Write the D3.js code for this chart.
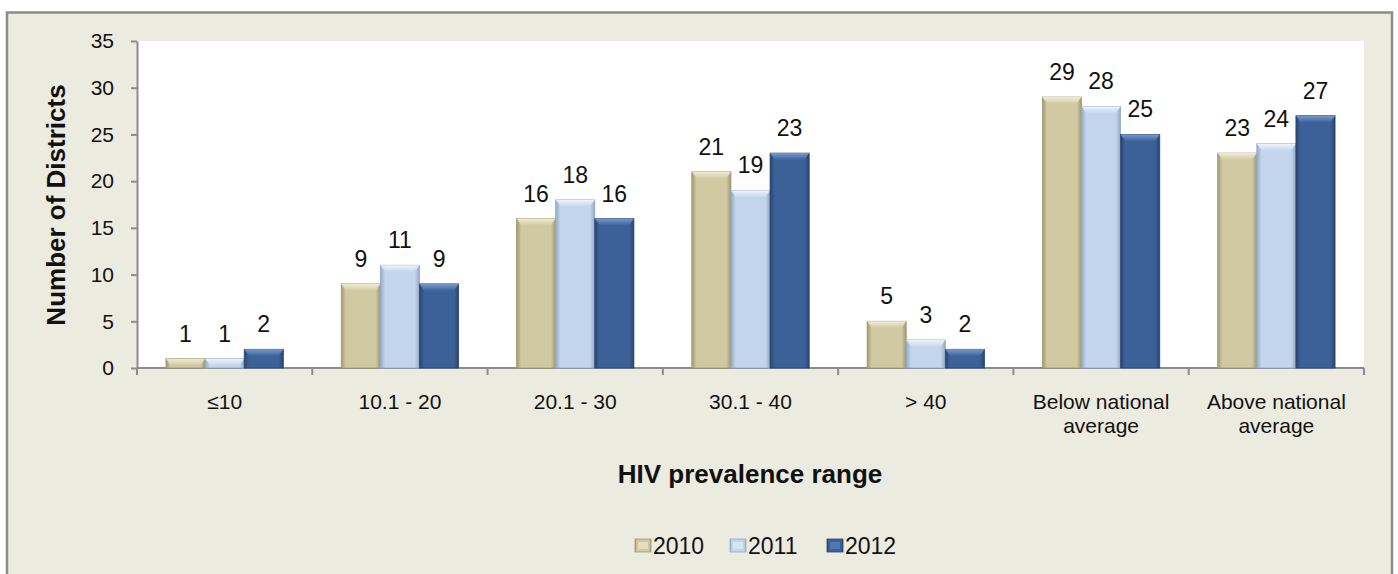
<!DOCTYPE html>
<html>
<head>
<meta charset="utf-8">
<script src="https://cdn.jsdelivr.net/npm/d3@7"></script>
<style>
  html, body { margin: 0; padding: 0; background: #ffffff; }
  svg { display: block; font-family: Arial, "Liberation Sans", sans-serif; }
</style>
</head>
<body>
<svg id="chart" width="1398" height="574"></svg>
<script>
// HIV prevalence ranges and number of districts per year
const categories = ["≤10", "10.1 - 20", "20.1 - 30", "30.1 - 40", "> 40", "Below national\naverage", "Above national\naverage"];
const years = ["2010", "2011", "2012"];
const values2010 = [1, 9, 16, 21, 5, 29, 23];
const values2011 = [1, 11, 18, 19, 3, 28, 24];
const values2012 = [2, 9, 16, 23, 2, 25, 27];
const yTicks = [0, 5, 10, 15, 20, 25, 30, 35];

const seriesValues = [values2010, values2011, values2012];
const palette = {
  "2010": { edge: "#9f9870", mid: "#d0c9a1", light: "#ebe7cc", cap: "#f4f1dc" },
  "2011": { edge: "#93a9c6", mid: "#c3d5ec", light: "#e1ebf7", cap: "#f4f8fd" },
  "2012": { edge: "#28456f", mid: "#3c6199", light: "#5a80b6", cap: "#7fa0d2" }
};

const svg = d3.select("#chart");
const W = 1398, H = 574;

// chart frame
svg.append("rect").attr("x", 0).attr("y", 0).attr("width", W).attr("height", H).attr("fill", "#ffffff");
svg.append("rect")
  .attr("x", 7).attr("y", 12.5).attr("width", 1385).attr("height", H)
  .attr("fill", "#ecebe0").attr("stroke", "#8c8c8c").attr("stroke-width", 2.5);

const plot = { left: 137, right: 1364, top: 41, bottom: 368 };

svg.append("rect")
  .attr("x", plot.left).attr("y", plot.top)
  .attr("width", plot.right - plot.left).attr("height", plot.bottom - plot.top)
  .attr("fill", "#ffffff");

const x0 = d3.scaleBand().domain(categories).range([plot.left, plot.right]).paddingInner(0).paddingOuter(0);
const x1 = d3.scaleBand().domain(years).range([0, x0.bandwidth()]).paddingInner(0).paddingOuter(0.74);
const y = d3.scaleLinear().domain([0, 35]).range([plot.bottom, plot.top]);

// gradients for the bevelled bar look
const defs = svg.append("defs");
years.forEach(yr => {
  const c = palette[yr];
  const g = defs.append("linearGradient").attr("id", "body" + yr).attr("x1", "0").attr("x2", "1").attr("y1", "0").attr("y2", "0");
  g.append("stop").attr("offset", "0%").attr("stop-color", c.edge);
  g.append("stop").attr("offset", "12%").attr("stop-color", c.mid);
  g.append("stop").attr("offset", "50%").attr("stop-color", c.mid);
  g.append("stop").attr("offset", "88%").attr("stop-color", c.mid);
  g.append("stop").attr("offset", "100%").attr("stop-color", c.edge);
  const t = defs.append("linearGradient").attr("id", "cap" + yr).attr("x1", "0").attr("x2", "0").attr("y1", "0").attr("y2", "1");
  t.append("stop").attr("offset", "0%").attr("stop-color", c.cap);
  t.append("stop").attr("offset", "100%").attr("stop-color", c.mid);
});

// y axis
const yAxis = d3.axisLeft(y).tickValues(yTicks).tickSize(6).tickSizeOuter(0).tickPadding(17);
const gy = svg.append("g").attr("transform", `translate(${plot.left},0)`).call(yAxis);
gy.select(".domain").attr("stroke", "#8c8c8c").attr("stroke-width", 2);
gy.selectAll(".tick line").attr("stroke", "#8c8c8c").attr("stroke-width", 2);
gy.selectAll(".tick text").attr("font-size", 21).attr("fill", "#111").attr("font-family", "Arial, 'Liberation Sans', sans-serif");

// x axis with ticks at category boundaries
const gx = svg.append("g").attr("transform", `translate(0,${plot.bottom})`);
gx.append("line").attr("x1", plot.left).attr("x2", plot.right).attr("y1", 0).attr("y2", 0)
  .attr("stroke", "#8c8c8c").attr("stroke-width", 2);
const boundaries = categories.map(c => x0(c)).concat([x0(categories[categories.length - 1]) + x0.bandwidth()]);
gx.selectAll("line.b").data(boundaries).join("line").attr("class", "b")
  .attr("x1", d => d).attr("x2", d => d).attr("y1", 0).attr("y2", 7)
  .attr("stroke", "#8c8c8c").attr("stroke-width", 2);

const catLabels = gx.selectAll("text.cat").data(categories).join("text").attr("class", "cat")
  .attr("x", d => x0(d) + x0.bandwidth() / 2)
  .attr("text-anchor", "middle").attr("font-size", 21).attr("fill", "#111");
catLabels.each(function(d) {
  const lines = d.split("\n");
  const t = d3.select(this);
  lines.forEach((ln, i) => {
    t.append("tspan").attr("x", x0(d) + x0.bandwidth() / 2)
      .attr("y", 41 + i * 24).text(ln);
  });
});

// bars
const groups = svg.append("g").selectAll("g").data(categories).join("g")
  .attr("transform", d => `translate(${x0(d)},0)`);

groups.each(function(cat, ci) {
  const g = d3.select(this);
  years.forEach((yr, si) => {
    const v = seriesValues[si][ci];
    const bx = x1(yr), bw = x1.bandwidth();
    const top = y(v), h = y(0) - y(v);
    const c = palette[yr];
    g.append("rect").attr("x", bx).attr("y", top).attr("width", bw).attr("height", h)
      .attr("fill", `url(#body${yr})`).attr("stroke", c.edge).attr("stroke-width", 0.8);
    const capH = Math.min(7, h);
    g.append("path")
      .attr("d", `M${bx},${top} L${bx + bw},${top} L${bx + bw - 5},${top + capH} L${bx + 5},${top + capH} Z`)
      .attr("fill", `url(#cap${yr})`).attr("opacity", 0.9);
    g.append("text").attr("x", bx + bw / 2).attr("y", top - 17)
      .attr("text-anchor", "middle").attr("font-size", 23).attr("fill", "#111").text(v);
  });
});

// axis titles
svg.append("text").attr("transform", "translate(65,205) rotate(-90)")
  .attr("text-anchor", "middle").attr("font-size", 26).attr("font-weight", "bold").attr("fill", "#111")
  .text("Number of Districts");
svg.append("text").attr("x", 750).attr("y", 483)
  .attr("text-anchor", "middle").attr("font-size", 26).attr("font-weight", "bold").attr("fill", "#111")
  .text("HIV prevalence range");

// legend
const legendX = [635, 730, 827];
const legend = svg.append("g").selectAll("g").data(years).join("g")
  .attr("transform", (d, i) => `translate(${legendX[i]},539)`);
legend.append("rect").attr("x", 0).attr("y", 0).attr("width", 16).attr("height", 13)
  .attr("fill", d => `url(#body${d})`).attr("stroke", d => palette[d].edge).attr("stroke-width", 0.8);
legend.append("rect").attr("x", 3).attr("y", 3).attr("width", 10).attr("height", 7)
  .attr("fill", d => palette[d].light).attr("opacity", 0.7);
legend.append("text").attr("x", 18).attr("y", 15).attr("font-size", 23).attr("fill", "#111").text(d => d);
</script>
</body>
</html>
